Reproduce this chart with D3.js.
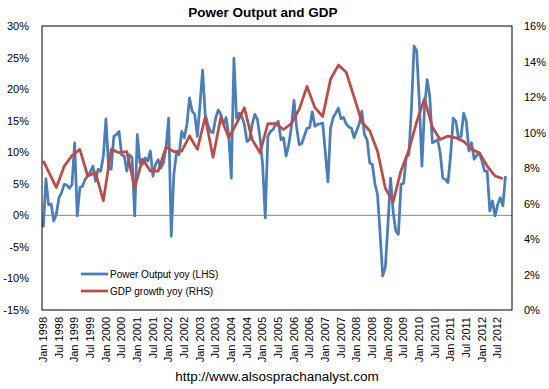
<!DOCTYPE html>
<html>
<head>
<meta charset="utf-8">
<script src="https://cdn.jsdelivr.net/npm/d3@7"></script>
<style>
body { margin: 0; background: #fff; }
text { font-family: "Liberation Sans", Arial, sans-serif; }
</style>
</head>
<body>
<div id="chart"></div>
<script>
// month categories Jan 1998 .. Dec 2012
var monthNames = ["Jan", "Feb", "Mar", "Apr", "May", "Jun", "Jul", "Aug", "Sep", "Oct", "Nov", "Dec"];
var years = d3.range(1998, 2013);
var categories = [];
years.forEach(function(y) {
    monthNames.forEach(function(m) { categories.push(m + " " + y); });
});

// power output yoy %, monthly from Jan 1998
var power = [
    -1.9, 5.8, 1.7, 1.8, -0.9, 0.2, 2.8, 3.6, 4.9, 4.8, 4.3, 4.9,
    11.5, -0.1, 4.4, 4.6, 5.7, 6.2, 6.9, 7.8, 5.4, 7.3, 7.0, 9.4,
    15.3, 7.5, 7.3, 12.5, 12.8, 13.3, 9.6, 9.4, 7.0, 9.6, 9.1, -0.1,
    12.8, 8.3, 8.1, 9.1, 8.6, 10.2, 6.2, 8.1, 8.8, 7.5, 8.3, 10.7,
    15.4, -3.3, 6.5, 9.9, 9.6, 13.3, 12.3, 14.4, 18.6, 16.5, 16.0, 12.5,
    17.5, 23.0, 16.0, 14.4, 13.3, 13.1, 15.4, 16.7, 16.0, 14.4, 15.5, 12.8,
    5.9, 24.9, 15.4, 16.2, 15.7, 14.4, 11.7, 12.0, 14.4, 16.0, 15.2, 12.3,
    8.0, -0.4, 12.5, 13.3, 13.6, 14.4, 14.9, 12.0, 12.3, 9.4, 11.2, 14.0,
    18.2, 14.0, 11.2, 11.4, 12.6, 13.8, 13.9, 16.4, 14.1, 14.4, 14.5, 14.6,
    10.0, 5.3, 13.8, 15.5, 16.2, 17.0, 15.3, 15.5, 14.5, 14.0, 13.8, 12.3,
    13.4, 14.5, 16.5, 12.8, 12.0, 8.3, 8.1, 5.0, 3.3, -3.0, -9.6, -8.2,
    -1.3, 5.9, 0.5, -2.5, -3.0, 4.9, 5.1, 9.2, 9.6, 17.0, 26.8, 26.0,
    18.1, 7.8, 17.0, 21.5, 18.9, 11.5, 11.7, 12.0, 9.9, 5.9, 5.7, 5.2,
    9.6, 15.4, 14.9, 12.3, 12.5, 16.2, 14.9, 10.2, 11.5, 8.9, 9.5, 9.9,
    8.6, 7.0, 7.0, 0.7, 2.3, -0.1, 1.7, 2.8, 1.5, 6.2
];

// gdp growth yoy %, quarter ends (plus the first month)
var gdpDates = ["Jan 1998"];
years.forEach(function(y) {
    ["Mar", "Jun", "Sep", "Dec"].forEach(function(m) {
        if (y < 2012 || m != "Dec") gdpDates.push(m + " " + y);
    });
});
var gdp = [
    8.4, 7.8, 6.9, 8.1, 8.7,
    9.05, 7.55, 7.74, 6.15,
    9.05, 8.86, 8.92, 6.89,
    8.5, 7.83, 7.83, 9.18,
    8.92, 8.95, 9.8, 9.05,
    10.86, 8.6, 10.86, 9.7,
    10.5, 11.4, 9.6, 8.86,
    10.5, 10.5, 10.17, 10.5,
    11.3, 12.6, 11.4, 10.9,
    13.0, 13.8, 13.4, 12.0,
    10.6, 10.1, 8.95, 6.85,
    6.1, 7.85, 9.0, 10.6,
    11.9, 10.3, 9.6, 9.8,
    9.7, 9.5, 9.05, 8.86,
    8.1, 7.55, 7.4
];

var leftTicks = [-15, -10, -5, 0, 5, 10, 15, 20, 25, 30];
var rightTicks = [0, 2, 4, 6, 8, 10, 12, 14, 16];

var width = 549, height = 389;
// plot box (note: "top" is taken by window.top)
var pLeft = 42, pRight = 512, pTop = 26, pBottom = 310;

var svg = d3.select("#chart")
    .append("svg")
    .attr("width", width)
    .attr("height", height);

var x = d3.scaleBand().domain(categories).range([pLeft, pRight]);
var yL = d3.scaleLinear().domain([-15, 30]).range([pBottom, pTop]);
var yR = d3.scaleLinear().domain([0, 16]).range([pBottom, pTop]);
var cx = function(c) { return x(c) + x.bandwidth() / 2; };

// title
svg.append("text")
    .attr("x", 263).attr("y", 17)
    .attr("text-anchor", "middle")
    .attr("font-size", "13.5px")
    .attr("font-weight", "bold")
    .text("Power Output and GDP");

// zero line
svg.append("line")
    .attr("x1", pLeft).attr("x2", pRight)
    .attr("y1", yL(0)).attr("y2", yL(0))
    .attr("stroke", "#868686")
    .attr("stroke-width", 1);

// left axis labels
svg.append("g")
    .attr("transform", "translate(" + pLeft + ",0)")
    .call(d3.axisLeft(yL).tickValues(leftTicks).tickSize(0).tickPadding(13)
        .tickFormat(function(d) { return d + "%"; }))
    .call(function(g) { g.select(".domain").remove(); })
    .selectAll("text")
    .attr("font-size", "11px")
    .attr("font-family", "Liberation Sans, Arial, sans-serif")
    .attr("fill", "#000");

// right axis labels
svg.append("g")
    .attr("transform", "translate(" + pRight + ",0)")
    .call(d3.axisRight(yR).tickValues(rightTicks).tickSize(0).tickPadding(12)
        .tickFormat(function(d) { return d + "%"; }))
    .call(function(g) { g.select(".domain").remove(); })
    .selectAll("text")
    .attr("font-size", "11px")
    .attr("font-family", "Liberation Sans, Arial, sans-serif")
    .attr("fill", "#000");

// x axis, every 6th month, rotated
var xTicks = categories.filter(function(c, i) { return i % 6 == 0; });
var xg = svg.append("g")
    .attr("transform", "translate(0," + pBottom + ")")
    .call(d3.axisBottom(x).tickValues(xTicks).tickSize(0).tickPadding(0));
xg.select(".domain").remove();
xg.selectAll("text")
    .attr("font-size", "11px")
    .attr("font-family", "Liberation Sans, Arial, sans-serif")
    .attr("fill", "#000")
    .attr("text-anchor", "end")
    .attr("transform", "rotate(-90)")
    .attr("x", -7)
    .attr("y", 0)
    .attr("dy", "0.35em");

// lines
var powerLine = d3.line()
    .x(function(d, i) { return cx(categories[i]); })
    .y(function(d) { return yL(d); });

var gdpLine = d3.line()
    .x(function(d, i) { return cx(gdpDates[i]); })
    .y(function(d) { return yR(d); });

svg.append("path")
    .datum(power)
    .attr("d", powerLine)
    .attr("fill", "none")
    .attr("stroke", "#4a7ebb")
    .attr("stroke-width", 2.75)
    .attr("stroke-linejoin", "round");

svg.append("path")
    .datum(gdp)
    .attr("d", gdpLine)
    .attr("fill", "none")
    .attr("stroke", "#be4b48")
    .attr("stroke-width", 2.75)
    .attr("stroke-linejoin", "round");

// plot border
svg.append("rect")
    .attr("x", pLeft).attr("y", pTop)
    .attr("width", pRight - pLeft).attr("height", pBottom - pTop)
    .attr("fill", "none")
    .attr("stroke", "#000")
    .attr("stroke-width", 1);

// legend
var legend = [
    { name: "Power Output yoy (LHS)", color: "#4a7ebb" },
    { name: "GDP growth yoy (RHS)", color: "#be4b48" }
];
legend.forEach(function(d, i) {
    var ly = 274 + i * 17;
    svg.append("line")
        .attr("x1", 81).attr("x2", 108)
        .attr("y1", ly).attr("y2", ly)
        .attr("stroke", d.color)
        .attr("stroke-width", 2.75);
    svg.append("text")
        .attr("x", 110).attr("y", ly + 3.5)
        .attr("font-size", "10px")
        .text(d.name);
});

// source
svg.append("text")
    .attr("x", 277).attr("y", 381)
    .attr("text-anchor", "middle")
    .attr("font-size", "13.5px")
    .text("http://www.alsosprachanalyst.com");
</script>
</body>
</html>
